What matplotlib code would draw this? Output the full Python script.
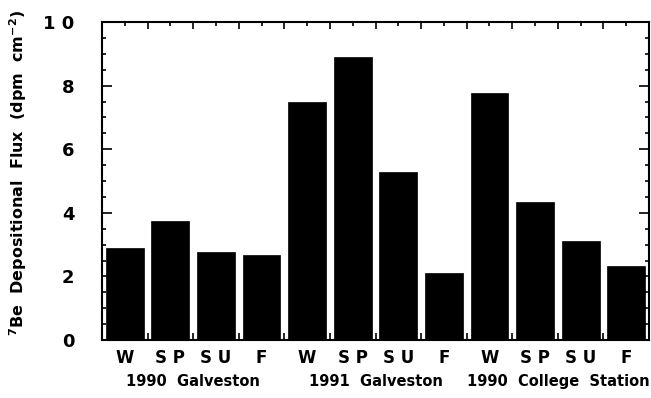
import matplotlib.pyplot as plt
from matplotlib.ticker import MultipleLocator

seasons = ['W', 'S P', 'S U', 'F'] * 3
groups = ['1990  Galveston', '1991  Galveston', '1990  College  Station']
flux = [2.90, 3.73, 2.78, 2.67,
        7.47, 8.89, 5.27, 2.10,
        7.77, 4.33, 3.12, 2.34]

fig = plt.figure(figsize=(6.51, 3.98), dpi=100)
ax = fig.add_axes([0.1567, 0.1457, 0.997 - 0.1567, 0.9447 - 0.1457])

x = [i + 0.5 for i in range(len(flux))]
ax.bar(x, flux, width=0.83, color='black', edgecolor='black', linewidth=0.5)

ax.set_xlim(0, 12)
ax.set_ylim(0, 10)

ax.set_xticks(range(13))
ax.set_xticklabels([])
ax.xaxis.set_minor_locator(MultipleLocator(0.5))
ax.yaxis.set_major_locator(MultipleLocator(2))
ax.yaxis.set_minor_locator(MultipleLocator(0.5))
ax.tick_params(axis='both', which='both', direction='in', top=True, right=True, width=1.2)
ax.tick_params(axis='x', which='minor', bottom=False, length=3)
ax.tick_params(axis='x', which='major', length=5)
ax.tick_params(axis='y', which='major', length=7, pad=20)
ax.tick_params(axis='y', which='minor', length=3)
ax.set_yticks([0, 2, 4, 6, 8, 10])
ax.set_yticklabels(['0', '2', '4', '6', '8', '1 0'], fontsize=13, fontweight='bold')

for s in ax.spines.values():
    s.set_linewidth(1.5)

for xi, s in zip(x, seasons):
    ax.text(xi, -0.55, s, ha='center', va='center', fontsize=12, fontweight='bold',
            clip_on=False)
for g, name in enumerate(groups):
    ax.text(4 * g + 2, -1.3, name, ha='center', va='center', fontsize=10.5,
            fontweight='bold', clip_on=False)

fig.text(0.028, 0.565, r'$^{\mathbf{7}}$Be  Depositional  Flux  (dpm  cm$^{\mathbf{-2}}$)',
         rotation=90, ha='center', va='center', fontsize=11.5, fontweight='bold')

fig.savefig('out.png', dpi=100)
